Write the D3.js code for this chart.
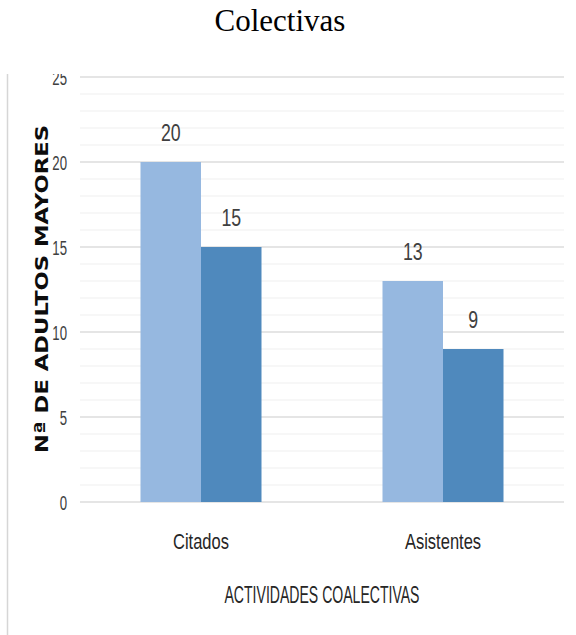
<!DOCTYPE html>
<html>
<head>
<meta charset="utf-8">
<script src="https://cdn.jsdelivr.net/npm/d3@7"></script>
<style>
  html, body { margin: 0; padding: 0; background: #fff; }
  svg { display: block; }
</style>
</head>
<body>
<script>
const categories = ["Citados", "Asistentes"];
const series1 = [20, 13];
const series2 = [15, 9];
const yTicks = [0, 5, 10, 15, 20, 25];
const minorTicks = d3.range(0, 26, 1);
const chartTitle = "Colectivas";
const yTitle = "Nª DE ADULTOS MAYORES";
const xTitle = "ACTIVIDADES COALECTIVAS";

const W = 576, H = 635;
const svg = d3.select("body").append("svg").attr("width", W).attr("height", H);

svg.append("text")
  .attr("x", 280).attr("y", 31)
  .attr("text-anchor", "middle")
  .style("font-family", "'Liberation Serif', 'Times New Roman', serif")
  .style("font-size", "31px")
  .attr("fill", "#000")
  .text(chartTitle);

svg.append("defs").append("clipPath").attr("id", "clip")
  .append("rect").attr("x", 0).attr("y", 74).attr("width", W).attr("height", H - 74);

const g = svg.append("g").attr("clip-path", "url(#clip)");

g.append("line").attr("x1", 7.5).attr("x2", 7.5).attr("y1", 73).attr("y2", H)
  .attr("stroke", "#d6d6d6").attr("stroke-width", 1.5);

const x0 = d3.scaleBand().domain(categories).range([80, 564]).paddingInner(0.5).paddingOuter(0.25);
const x1 = d3.scaleBand().domain([0, 1]).range([0, x0.bandwidth()]);
const y = d3.scaleLinear().domain([0, 25]).range([502, 77]);

g.append("g").selectAll("line").data(minorTicks.filter(d => d % 5 !== 0)).join("line")
  .attr("x1", 80).attr("x2", 564)
  .attr("y1", d => y(d)).attr("y2", d => y(d))
  .attr("stroke", "#efefef").attr("stroke-width", 1.2);
g.append("g").selectAll("line").data(yTicks).join("line")
  .attr("x1", 80).attr("x2", 564)
  .attr("y1", d => y(d)).attr("y2", d => y(d))
  .attr("stroke", "#dcdcdc").attr("stroke-width", 1.5);

const yAxis = g.append("g").attr("transform", "translate(80,0)")
  .call(d3.axisLeft(y).tickValues(yTicks).tickSize(0).tickPadding(13));
yAxis.select(".domain").remove();
yAxis.selectAll("text")
  .attr("x", 0).attr("dy", "0.35em")
  .attr("transform", "translate(-13,0) scale(0.66,1)")
  .style("font-family", "'Liberation Sans', Arial, sans-serif")
  .style("font-size", "20px")
  .attr("fill", "#404040");

const colors = ["#96b8e0", "#4f89bd"];
const data = categories.map((c, i) => ({ cat: c, vals: [series1[i], series2[i]] }));
const groups = g.append("g").selectAll("g").data(data).join("g")
  .attr("transform", d => `translate(${x0(d.cat)},0)`);
groups.selectAll("rect").data(d => d.vals.map((v, k) => ({ v, k }))).join("rect")
  .attr("x", d => x1(d.k)).attr("width", x1.bandwidth())
  .attr("y", d => y(d.v)).attr("height", d => y(0) - y(d.v))
  .attr("fill", d => colors[d.k]);
groups.selectAll("text.val").data(d => d.vals.map((v, k) => ({ v, k }))).join("text")
  .attr("class", "val")
  .attr("transform", d => `translate(${x1(d.k) + x1.bandwidth() / 2},${y(d.v) - 21}) scale(0.74,1)`)
  .attr("text-anchor", "middle")
  .style("font-family", "'Liberation Sans', Arial, sans-serif")
  .style("font-size", "24px")
  .attr("fill", "#404040")
  .text(d => d.v);

const xAxis = g.append("g").attr("transform", "translate(0,502)")
  .call(d3.axisBottom(x0).tickSize(0));
xAxis.select(".domain").remove();
xAxis.selectAll("text")
  .attr("y", 0).attr("dy", 0)
  .attr("transform", "translate(0,47) scale(0.75,1)")
  .style("font-family", "'Liberation Sans', Arial, sans-serif")
  .style("font-size", "22px")
  .attr("fill", "#262626");

g.append("text")
  .attr("x", 322).attr("y", 603)
  .attr("text-anchor", "middle")
  .attr("textLength", 195).attr("lengthAdjust", "spacingAndGlyphs")
  .style("font-family", "'Liberation Sans', Arial, sans-serif")
  .style("font-size", "24px")
  .attr("fill", "#262626")
  .text(xTitle);

g.append("text")
  .attr("transform", "translate(48,289) rotate(-90)")
  .attr("text-anchor", "middle")
  .attr("textLength", 328).attr("lengthAdjust", "spacingAndGlyphs")
  .style("font-family", "'DejaVu Sans', sans-serif")
  .style("font-weight", "bold")
  .style("font-size", "18px")
  .attr("fill", "#0d0d0d")
  .text(yTitle);
</script>
</body>
</html>
